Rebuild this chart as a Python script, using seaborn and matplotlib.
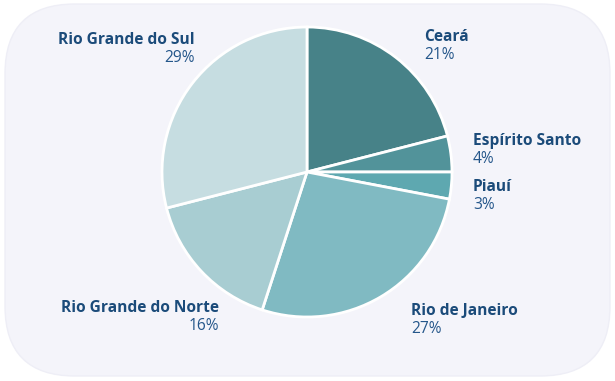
import matplotlib
matplotlib.use("Agg")
import matplotlib.pyplot as plt
import seaborn as sns
from matplotlib.patches import FancyBboxPatch

states = ["Ceará", "Espírito Santo", "Piauí", "Rio de Janeiro", "Rio Grande do Norte", "Rio Grande do Sul"]
shares = [21, 4, 3, 27, 16, 29]
colors = ["#478288", "#52939a", "#5ea8b0", "#80bac2", "#a8cdd2", "#c6dde1"]

sns.set_theme(style="white")
plt.rcParams["font.family"] = ["Open Sans", "DejaVu Sans"]

W, H = 615, 381
fig = plt.figure(figsize=(W / 100, H / 100), dpi=100)
ax = fig.add_axes([0, 0, 1, 1])
ax.set_xlim(0, W)
ax.set_ylim(0, H)
ax.set_aspect("equal")
ax.axis("off")
fig.patch.set_facecolor("white")

bg = FancyBboxPatch((5, 5), 605, 372, boxstyle="round,pad=0,rounding_size=70",
                    facecolor="#f4f4fa", edgecolor="#eeeef6", linewidth=1, zorder=0)
ax.add_patch(bg)

cx, cy, r = 307, H - 172, 145
ax.pie(shares, colors=colors, startangle=90, counterclock=False, center=(cx, cy),
       radius=r, wedgeprops=dict(edgecolor="white", linewidth=2), frame=True)
ax.set_xlim(0, W)
ax.set_ylim(0, H)
ax.axis("off")

name_color = "#1b4b7a"
pct_color = "#24568a"
# label anchor positions (pixel coords from top), alignment
label_pos = {
    "Ceará": (424, 37, "left"),
    "Espírito Santo": (473, 141, "left"),
    "Piauí": (473, 187, "left"),
    "Rio de Janeiro": (411, 311, "left"),
    "Rio Grande do Norte": (219, 308, "right"),
    "Rio Grande do Sul": (195, 40, "right"),
}
for s, v in zip(states, shares):
    x, y, ha = label_pos[s]
    ax.text(x, H - y, s, ha=ha, va="center", fontsize=11.2, fontweight="bold", color=name_color)
    ax.text(x, H - y - 18, f"{v}%", ha=ha, va="center", fontsize=11.2, color=pct_color)

fig.savefig("out.png", dpi=100)
